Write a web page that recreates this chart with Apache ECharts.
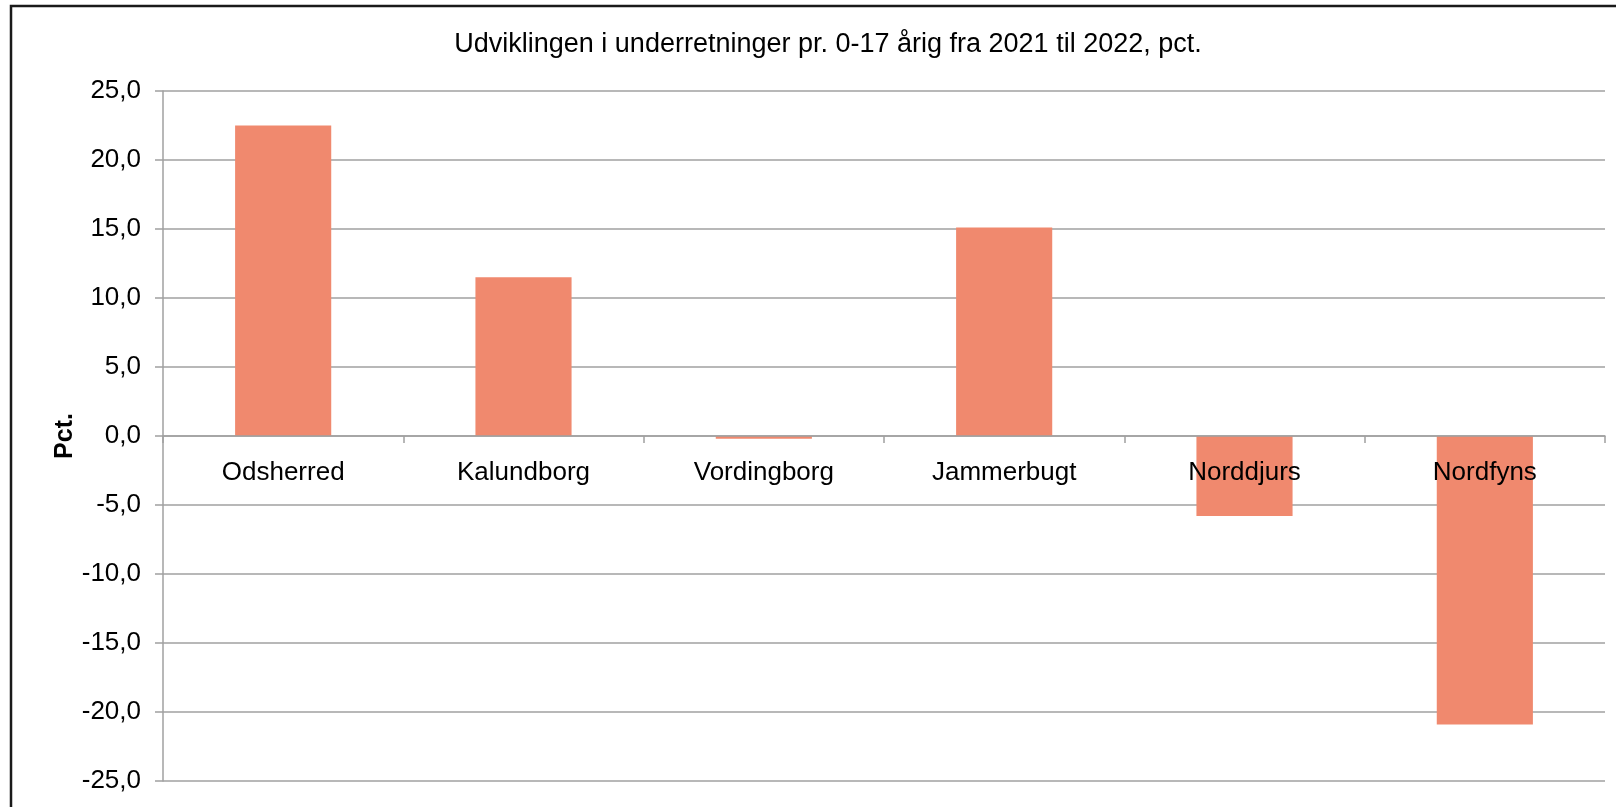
<!DOCTYPE html>
<html>
<head>
<meta charset="utf-8">
<script src="https://cdn.jsdelivr.net/npm/echarts@6/dist/echarts.min.js"></script>
<style>
  html, body { margin: 0; padding: 0; background: #fff; }
  #chart { width: 1616px; height: 807px; }
</style>
</head>
<body>
<div id="chart"></div>
<script>
// Change in notifications per 0-17 year old, 2021 to 2022 (pct.)
const municipalities = ['Odsherred', 'Kalundborg', 'Vordingborg', 'Jammerbugt', 'Norddjurs', 'Nordfyns'];
const changePct = [22.5, 11.5, -0.2, 15.1, -5.8, -20.9];
const yTicks = { min: -25, max: 25, step: 5 };
const titleText = 'Udviklingen i underretninger pr. 0-17 årig fra 2021 til 2022, pct.';
const yAxisName = 'Pct.';

const FONT = '"Liberation Sans", Arial, sans-serif';
const GRID_COLOR = '#a0a0a0';
const GRID = { left: 163, right: 11, top: 91, bottom: 26 };
const CHART_H = 807;

const chart = echarts.init(document.getElementById('chart'), null, { renderer: 'canvas' });

// The category axis sits on the zero line; shift it up from the grid bottom by
// the pixel distance between the axis minimum and zero.
const plotH = CHART_H - GRID.top - GRID.bottom;
const zeroOffset = -plotH * (0 - yTicks.min) / (yTicks.max - yTicks.min);

chart.setOption({
  backgroundColor: '#ffffff',
  animation: false,
  title: {
    text: titleText,
    left: 823,
    top: 26,
    textAlign: 'center',
    textStyle: { fontFamily: FONT, fontSize: 27, fontWeight: 'normal', color: '#000' }
  },
  graphic: [
    {
      type: 'polyline',
      shape: { points: [[11, 810], [11, 6], [1620, 6]] },
      style: { stroke: '#1a1a1a', lineWidth: 2.5, fill: null },
      z: 100
    }
  ],
  grid: Object.assign({ containLabel: false }, GRID),
  xAxis: {
    type: 'category',
    data: municipalities,
    position: 'bottom',
    offset: zeroOffset,
    z: 10,
    axisLine: { onZero: false, lineStyle: { color: GRID_COLOR, width: 1.5 } },
    axisTick: { show: true, inside: false, length: 7, alignWithLabel: false, lineStyle: { color: GRID_COLOR, width: 1.5 } },
    axisLabel: { margin: 24, fontFamily: FONT, fontSize: 26, color: '#000', interval: 0 },
    splitLine: { show: false }
  },
  yAxis: {
    type: 'value',
    min: yTicks.min,
    max: yTicks.max,
    interval: yTicks.step,
    name: yAxisName,
    nameLocation: 'middle',
    nameGap: 85,
    nameMoveOverlap: false,
    nameRotate: 90,
    nameTextStyle: { fontFamily: FONT, fontSize: 25, fontWeight: 'bold', color: '#000' },
    axisLine: { show: true, lineStyle: { color: GRID_COLOR, width: 1.5 } },
    axisTick: { show: true, inside: false, length: 8, lineStyle: { color: GRID_COLOR, width: 1.5 } },
    axisLabel: {
      margin: 22,
      fontFamily: FONT,
      fontSize: 26,
      color: '#000',
      formatter: v => v.toFixed(1).replace('.', ',')
    },
    splitLine: { show: true, lineStyle: { color: GRID_COLOR, width: 1.5 } }
  },
  series: [
    {
      type: 'bar',
      data: changePct,
      barWidth: '40%',
      itemStyle: { color: '#f0896e' },
      z: 2
    }
  ]
});
</script>
</body>
</html>
